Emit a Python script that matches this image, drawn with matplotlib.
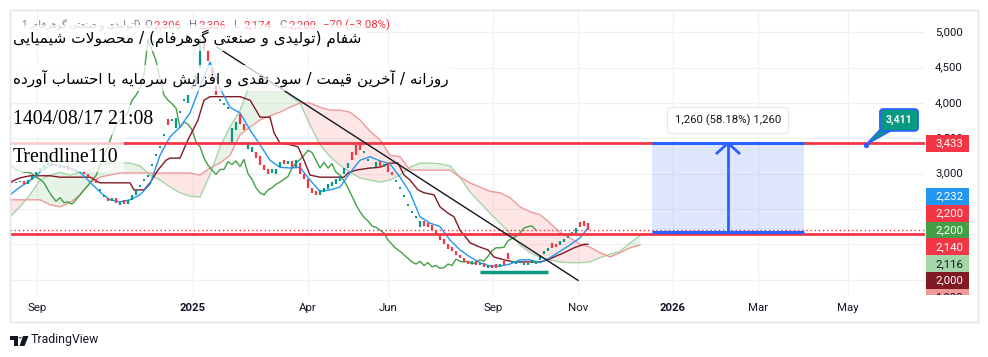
import numpy as np
import matplotlib
matplotlib.use('Agg')
import matplotlib.pyplot as plt
from matplotlib.patches import Rectangle, Polygon, Circle

# ---- data (x = daily bar index, price in rials) ----
candle_x = list(range(1, 290, 2))
open_ = [2900, 2870, 2880, 2900, 2850, 2910, 2970, 3020, 3080, 3120,
         3150, 3120, 3110, 3080, 3110, 3050, 3040, 3020, 3020, 3000,
         2950, 2920, 2770, 2680, 2660, 2610, 2660, 2560, 2620, 2570,
         2630, 2700, 2830, 2910, 2970, 3120, 3260, 3380, 3550, 3780,
         3760, 3640, 3870, 4040, 4000, 4210, 4250, 4500, 4900, 4750,
         4500, 4250, 4040, 3990, 3930, 3450, 3620, 3850, 3700, 3350,
         3300, 3300, 3250, 3120, 3060, 3010, 3000, 3100, 3190, 3130,
         3180, 3100, 3150, 3000, 2920, 2800, 2760, 2700, 2740, 2780,
         2830, 2860, 2900, 3000, 3080, 3300, 3400, 3430, 3300, 3190,
         3080, 3100, 3180, 3090, 3150, 3020, 2900, 2800, 2680, 2560,
         2460, 2380, 2250, 2330, 2300, 2270, 2200, 2130, 2080, 2000,
         1960, 1900, 1850, 1800, 1760, 1720, 1760, 1700, 1740, 1660,
         1700, 1720, 1680, 1760, 1880, 1740, 1720, 1740, 1720, 1700,
         1740, 1720, 1780, 1860, 1900, 2020, 2000, 1990, 2030, 2110,
         2160, 2160, 2320, 2330, 2306]
close = [2870, 2880, 2900, 2850, 2910, 2970, 3020, 3080, 3120, 3150,
         3120, 3110, 3080, 3110, 3050, 3040, 3020, 3020, 3000, 2950,
         2920, 2870, 2770, 2680, 2610, 2660, 2590, 2600, 2570, 2630,
         2700, 2770, 2830, 2910, 2970, 3120, 3260, 3380, 3550, 3690,
         3760, 3790, 3870, 4040, 4110, 4210, 4400, 4900, 4750, 4600,
         4330, 4110, 4040, 3990, 3930, 3650, 3730, 3700, 3620, 3450,
         3380, 3220, 3120, 3050, 2990, 3060, 3060, 3170, 3130, 3180,
         3100, 3200, 3000, 2920, 2800, 2730, 2700, 2770, 2800, 2850,
         2880, 2920, 2960, 3080, 3150, 3200, 3260, 3330, 3300, 3190,
         3080, 3160, 3080, 3140, 3020, 2980, 2900, 2800, 2680, 2560,
         2460, 2380, 2330, 2260, 2240, 2200, 2160, 2060, 2000, 1940,
         1900, 1850, 1800, 1750, 1720, 1760, 1700, 1740, 1680, 1700,
         1660, 1670, 1720, 1700, 1790, 1760, 1750, 1760, 1720, 1740,
         1780, 1760, 1830, 1910, 1950, 1950, 1960, 2050, 2080, 2110,
         2160, 2230, 2250, 2260, 2200]

tenkan_x = list(range(0, 286, 5)) + [289]
tenkan = [2700, 2810, 2900, 3020, 3120, 3120, 3080, 3020, 2880, 2740,
          2630, 2600, 2630, 2700, 2850, 3260, 3520, 3660, 3860, 4230,
          4580, 4210, 3940, 3860, 3620, 3410, 3190, 3090, 3080, 3090,
          2910, 2750, 2770, 2810, 3010, 3190, 3240, 3180, 3140, 2950,
          2730, 2390, 2300, 2250, 2060, 1920, 1820, 1740, 1690, 1690,
          1720, 1780, 1780, 1740, 1810, 1900, 1990, 2090, 2232]

kijun_x = [0, 5, 10, 15, 20, 25, 30, 35, 40, 45, 50, 55, 60, 62, 67, 70, 74, 78, 80, 85,
           89, 94, 97, 100, 115, 120, 123, 125, 130, 132, 135, 140, 144, 147, 150, 155, 167, 169, 173, 180,
           185, 190, 194, 197, 200, 204, 207, 212, 215, 219, 222, 225, 229, 230, 235, 239, 242, 247, 252, 265,
           269, 272, 277, 282, 287, 289]
kijun = [2880, 2940, 2970, 2970, 2970, 2950, 2950, 2950, 2950, 2870, 2870, 2870, 2870, 2770, 2770, 2870, 3050, 3190, 3220, 3220,
         3480, 3760, 4040, 4090, 4090, 4040, 3900, 3800, 3800, 3580, 3430, 3410, 3380, 3190, 2980, 2950, 2950, 3010, 3050, 3080,
         3090, 3150, 3150, 2980, 2910, 2770, 2730, 2700, 2530, 2440, 2390, 2200, 2060, 2020, 1960, 1920, 1820, 1780, 1750, 1750,
         1780, 1820, 1880, 1950, 2000, 2000]

cloud_x = list(range(0, 316, 5))
senkou_a = [2390, 2530, 2700, 2910, 2980, 3020, 2980, 3020, 3050, 3120,
            3150, 3150, 3150, 3110, 2980, 2910, 2810, 2730, 2680, 2670,
            2980, 3380, 3660, 3900, 4260, 4330, 4280, 4230, 4110, 4000,
            3690, 3410, 3240, 3120, 3020, 2940, 2910, 2880, 2910, 2980,
            3090, 3150, 3150, 3140, 3110, 2950, 2740, 2590, 2440, 2300,
            2160, 1990, 1880, 1820, 1780, 1750, 1740, 1740, 1750, 1810,
            1860, 1900, 2020, 2120]
senkou_b = [2630, 2630, 2630, 2630, 2560, 2530, 2590, 2700, 2870, 2950,
            2980, 3010, 3010, 3010, 3010, 3010, 3010, 3010, 3010, 2980,
            3080, 3150, 3260, 3550, 3660, 3760, 3820, 3870, 3940, 4000,
            4000, 3940, 3900, 3900, 3870, 3760, 3600, 3480, 3260, 3240,
            3050, 3050, 3050, 3050, 3050, 2950, 2870, 2810, 2750, 2730,
            2660, 2530, 2460, 2420, 2300, 2170, 2090, 2000, 1960, 1880,
            1820, 1880, 1950, 1990]
chikou_shift = 26

resistance = 3433
support_line = 2140
last_price = 2200
trend_x = [103.5, 284]
trend_y = [4790, 1490]
floor_x = [235, 269]
floor_y = 1610
measure_x = [321, 397]
measure_lo, measure_hi = 2173, 3433
callout_x, callout_y = 428, 3411

time_ticks = [13.5, 91.5, 149, 189, 241.5, 284, 331.5, 374, 419]
time_labels = ['Sep', '2025', 'Apr', 'Jun', 'Sep', 'Nov', '2026', 'Mar', 'May']
price_ticks = [1500, 2000, 2500, 3000, 3500, 4000, 4500, 5000]
price_labels_shown = [3000, 3500, 4000, 4500, 5000]

# right scale labels (text, colour, text colour), stacked like TradingView does
scale_labels = [('2,232', '#2196F3', 'white'), ('2,200', '#F23645', 'white'),
                ('2,200', '#43A047', 'white'), ('2,140', '#F23645', 'white'),
                ('2,116', '#A5D6A7', '#131722'), ('2,000', '#801922', 'white'),
                ('1,990', '#EF9A9A', '#131722')]

ohlc_legend = [('O', '2,306'), ('H', '2,306'), ('L', '2,174'), ('C', '2,200')]

title1 = 'شفام (تولیدی و صنعتی گوهرفام) / محصولات شیمیایی'
title2 = 'روزانه / آخرین قیمت / سود نقدی و افزایش سرمایه با احتساب آورده'
title3 = '1404/08/17 21:08'
title4 = 'Trendline110'
symbol_name = 'تولیدی و صنعتی گوهرفام'

# ---- minimal Persian shaping (matplotlib has no bidi/shaping) ----
FORMS = {
    'ا': ('\uFE8D', '\uFE8E', None, None), 'آ': ('\uFE81', '\uFE82', None, None),
    'ب': ('\uFE8F', '\uFE90', '\uFE91', '\uFE92'), 'پ': ('\uFB56', '\uFB57', '\uFB58', '\uFB59'),
    'ت': ('\uFE95', '\uFE96', '\uFE97', '\uFE98'), 'ج': ('\uFE9D', '\uFE9E', '\uFE9F', '\uFEA0'),
    'ح': ('\uFEA1', '\uFEA2', '\uFEA3', '\uFEA4'), 'خ': ('\uFEA5', '\uFEA6', '\uFEA7', '\uFEA8'),
    'د': ('\uFEA9', '\uFEAA', None, None), 'ر': ('\uFEAD', '\uFEAE', None, None),
    'ز': ('\uFEAF', '\uFEB0', None, None), 'س': ('\uFEB1', '\uFEB2', '\uFEB3', '\uFEB4'),
    'ش': ('\uFEB5', '\uFEB6', '\uFEB7', '\uFEB8'), 'ص': ('\uFEB9', '\uFEBA', '\uFEBB', '\uFEBC'),
    'ع': ('\uFEC9', '\uFECA', '\uFECB', '\uFECC'), 'ف': ('\uFED1', '\uFED2', '\uFED3', '\uFED4'),
    'ق': ('\uFED5', '\uFED6', '\uFED7', '\uFED8'), 'ک': ('\uFB8E', '\uFB8F', '\uFB90', '\uFB91'),
    'گ': ('\uFB92', '\uFB93', '\uFB94', '\uFB95'), 'ل': ('\uFEDD', '\uFEDE', '\uFEDF', '\uFEE0'),
    'م': ('\uFEE1', '\uFEE2', '\uFEE3', '\uFEE4'), 'ن': ('\uFEE5', '\uFEE6', '\uFEE7', '\uFEE8'),
    'ه': ('\uFEE9', '\uFEEA', '\uFEEB', '\uFEEC'), 'و': ('\uFEED', '\uFEEE', None, None),
    'ی': ('\uFBFC', '\uFBFD', '\uFBFE', '\uFBFF'),
}


def shape(s):
    out = []
    i = 0
    while i < len(s):
        ch = s[i]
        if ch not in FORMS:
            out.append(ch)
            i += 1
            continue
        prev = s[i - 1] if i > 0 else ''
        jp = prev in FORMS and FORMS[prev][2] is not None
        if ch == 'ل' and i + 1 < len(s) and s[i + 1] == 'ا':
            out.append('\uFEFC' if jp else '\uFEFB')
            i += 2
            continue
        nxt = s[i + 1] if i + 1 < len(s) else ''
        jn = FORMS[ch][2] is not None and nxt in FORMS
        f = FORMS[ch]
        out.append(f[3] if (jp and jn) else f[1] if jp else f[2] if jn else f[0])
        i += 1
    return ''.join(reversed(out)).translate(str.maketrans('()', ')('))


# ---- figure ----
W, H = 988, 357
fig = plt.figure(figsize=(W / 100, H / 100), dpi=100)
fig.patch.set_facecolor('white')


def fx(px):
    return px / W


def fy(py):
    return 1 - py / H


ax = fig.add_axes([fx(10), fy(295), fx(925) - fx(10), fy(10) - fy(295)])
axp = fig.add_axes([fx(925), fy(295), fx(978) - fx(925), fy(10) - fy(295)])
ylim = (1282, 5317)
ax.set_xlim(0, 457.5)
ax.set_ylim(*ylim)
axp.set_xlim(0, 1)
axp.set_ylim(*ylim)
for a in (ax, axp):
    for s in a.spines.values():
        s.set_visible(False)
axp.set_xticks([])
axp.set_yticks([])

ax.set_yticks(price_ticks)
ax.set_xticks(time_ticks, time_labels)
ax.grid(True, color='#F0F1F5', lw=0.9, zorder=0)
ax.set_axisbelow(True)
ax.tick_params(axis='y', left=False, labelleft=False)
ax.tick_params(axis='x', length=0, pad=6, labelsize=8.2, colors='#131722')
for t in ax.get_xticklabels():
    t.set_fontfamily('Roboto')
    if t.get_text().isdigit():
        t.set_fontweight('bold')

# ichimoku cloud
ca = np.array(senkou_a)
cb = np.array(senkou_b)
ax.fill_between(cloud_x, ca, cb, where=ca >= cb, interpolate=True,
                color='#43A047', alpha=0.12, lw=0, zorder=1)
ax.fill_between(cloud_x, ca, cb, where=ca < cb, interpolate=True,
                color='#F44336', alpha=0.13, lw=0, zorder=1)
ax.plot(cloud_x, senkou_a, color='#A5D6A7', lw=1, zorder=2)
ax.plot(cloud_x, senkou_b, color='#EF9A9A', lw=1, zorder=2)

# lines
ax.plot(np.array(candle_x) - chikou_shift, close, color='#43A047', lw=1, zorder=3)
ax.plot(kijun_x, kijun, color='#801922', lw=1, zorder=3)
ax.plot(tenkan_x, tenkan, color='#2196F3', lw=1, zorder=3)

# candles
o = np.array(open_)
c = np.array(close)
cols = np.where(c >= o, '#089981', '#F23645')
ax.vlines(candle_x, np.minimum(o, c), np.maximum(o, c), colors=cols, lw=1.6, zorder=4)
flat = o == c
ax.scatter(np.array(candle_x)[flat], c[flat], s=2.5, marker='s', color='#089981',
           lw=0, zorder=4)

# drawings
ax.axhline(resistance, color='#F23645', lw=2, zorder=5)
ax.axhline(support_line, color='#F23645', lw=2, zorder=5)
ax.axhline(last_price, color='#F23645', lw=1, ls=(0, (1, 2)), zorder=5)
ax.plot(trend_x, trend_y, color='#131722', lw=1, zorder=5)
ax.hlines(floor_y, floor_x[0], floor_x[1], color='#089981', lw=2.5, zorder=5)

ax.add_patch(Rectangle((measure_x[0], measure_lo), measure_x[1] - measure_x[0],
                       measure_hi - measure_lo, fc='#2962FF', alpha=0.15, lw=0, zorder=5))
ax.hlines([measure_lo, measure_hi], measure_x[0], measure_x[1], color='#2962FF', lw=2.2, zorder=6)
mid = (measure_x[0] + measure_x[1]) / 2
ax.plot([mid, mid], [measure_lo, measure_hi], color='#2962FF', lw=2, zorder=6)
ax.plot([mid - 5.5, mid, mid + 5.5], [measure_hi - 142, measure_hi, measure_hi - 142],
        color='#2962FF', lw=2, zorder=6)
ax.text(mid, 3750, '1,260 (58.18%) 1,260', ha='center', va='center', fontsize=8.2,
        family='Roboto', color='#131722', zorder=7,
        bbox=dict(boxstyle='round,pad=0.65,rounding_size=0.4', fc='white', ec='#E6E8EE', lw=0.8))

ax.add_patch(Polygon([(436, 3650), (443, 3650), (callout_x, callout_y)], closed=True,
                     fc='#089981', ec='#2962FF', lw=1.2, zorder=7))
ax.text(444.5, 3760, '3,411', ha='center', va='center', fontsize=7.5, family='Roboto',
        fontweight='bold', color='white', zorder=8,
        bbox=dict(boxstyle='round,pad=0.55,rounding_size=0.3', fc='#089981', ec='#2962FF', lw=1.3))
ax.scatter([callout_x], [callout_y], s=8, color='#2962FF', zorder=8)

# legend row (faded behind the title box)
leg_y = (295 - 25) / 285
ax.text((140 - 10) / 915, leg_y, '1 ,' + shape(symbol_name) + 'D', transform=ax.transAxes,
        fontsize=7.2, color='#787B86', va='center', ha='right', zorder=15,
        family=['Roboto', 'DejaVu Sans'])
px = 144
for letter, val in ohlc_legend:
    ax.text((px - 10) / 915, leg_y, letter, transform=ax.transAxes, fontsize=8.2,
            color='#787B86', va='center', zorder=15, family='Roboto')
    ax.text((px + 9 - 10) / 915, leg_y, val, transform=ax.transAxes, fontsize=8.2,
            color='#F23645', va='center', zorder=15, family='Roboto')
    px += 45
ax.text((323 - 10) / 915, leg_y, '\u221270 (\u22123.08%)', transform=ax.transAxes,
        fontsize=8.2, color='#F23645', va='center', zorder=15, family='Roboto')

# title drawings with translucent white background
box = dict(boxstyle='square,pad=0.3', fc='white', ec='none', alpha=0.75)
ax.text(0.003, (295 - 38) / 285, shape(title1), transform=ax.transAxes, fontsize=11.1,
        family='DejaVu Sans', color='#000000', va='center', zorder=20, bbox=box)
ax.text(0.003, (295 - 78) / 285, shape(title2), transform=ax.transAxes, fontsize=11,
        family='DejaVu Sans', color='#000000', va='center', zorder=20, bbox=box)
ax.text(0.003, (295 - 120) / 285, title3, transform=ax.transAxes, fontsize=14.3,
        family='Liberation Serif', color='#000000', va='center', zorder=20, bbox=box)
ax.text(0.003, (295 - 157) / 285, title4, transform=ax.transAxes, fontsize=14.3,
        family='Liberation Serif', color='#000000', va='center', zorder=20, bbox=box)

# price scale
for p in price_labels_shown:
    axp.text(0.19, p, f'{p:,}', va='center', ha='left', fontsize=8.2, family='Roboto',
             color='#131722', zorder=1)
lab_h = 240
axp.add_patch(Rectangle((0.02, resistance - lab_h / 2), 0.81, lab_h, fc='#F23645', lw=0, zorder=2))
axp.text(0.19, resistance, f'{resistance:,}', va='center', ha='left', fontsize=8.2,
         family='Roboto', color='white', zorder=3)
for k, (txt, fc, tc) in enumerate(scale_labels):
    yc = last_price + (2 - k) * 238
    axp.add_patch(Rectangle((0.02, yc - lab_h / 2), 0.81, lab_h, fc=fc, lw=0, zorder=2))
    axp.text(0.19, yc, txt, va='center', ha='left', fontsize=8.2, family='Roboto',
             color=tc, zorder=3, clip_on=True)

# frame + footer
fig.add_artist(Rectangle((fx(10), fy(322)), fx(978) - fx(10), fy(10) - fy(322),
                         transform=fig.transFigure, fill=False, ec='#E0E3EB', lw=1))
logo = [[(10, 336), (18, 336), (18, 346), (14, 346), (14, 340), (10, 340)],
        [(23, 336), (28.5, 336), (24.5, 346), (19.5, 346)]]
for pts in logo:
    fig.add_artist(Polygon([(fx(a), fy(b)) for a, b in pts], closed=True,
                           transform=fig.transFigure, fc='#131722', lw=0))
fig.add_artist(Circle((fx(20.3), fy(337.8)), 1.6 / W, transform=fig.transFigure,
                      fc='#131722', lw=0))
fig.text(fx(31), fy(339), 'TradingView', fontsize=8.8, family='Roboto', color='#131722',
         va='center')

fig.savefig('out.png', dpi=100, facecolor='white')
